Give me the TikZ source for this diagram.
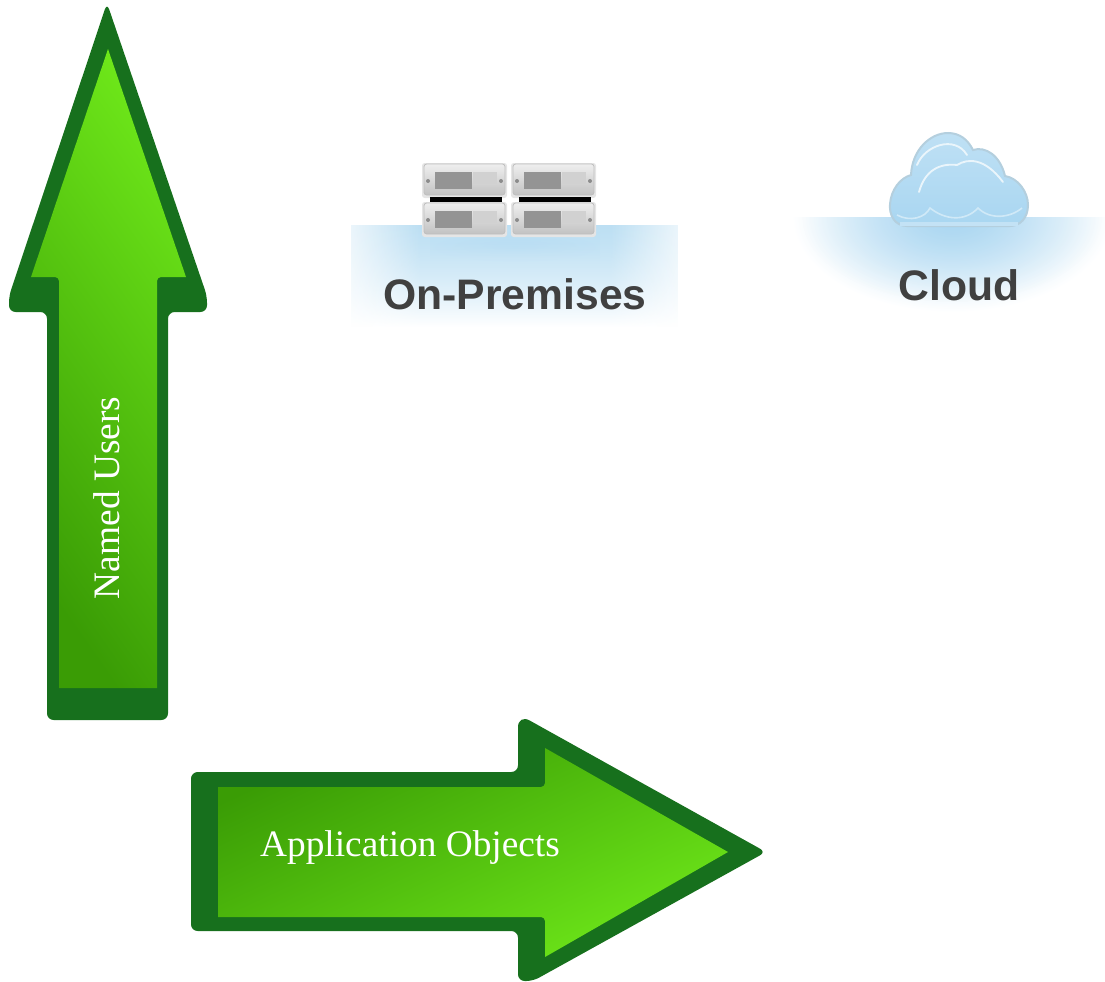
\documentclass[tikz,border=0pt]{standalone}
\usepackage{fontspec}
\setmainfont{Liberation Serif}
\newfontfamily\labelfont{Liberation Sans}
\usetikzlibrary{fadings}

\definecolor{arrowdark}{HTML}{17701D}
\definecolor{greenlow}{HTML}{3A9C05}
\definecolor{greenhigh}{HTML}{6DE619}
\definecolor{glowblue}{HTML}{BCDFF3}
\definecolor{cloudblue}{HTML}{A9D6F1}
\definecolor{cloudedge}{HTML}{B4CFDE}
\definecolor{labelgray}{HTML}{404040}
\definecolor{unitgray}{HTML}{E4E4E4}

\tikzfading[name=softglow, inner color=transparent!45, outer color=transparent!100]

\tikzset{
	arrowrim/.style={fill=arrowdark, rounded corners=5pt},
	arrowface/.style={bottom color=greenlow, top color=greenhigh, shading angle=#1},
	place/.style={font=\labelfont\bfseries\fontsize{32}{38}\selectfont, text=labelgray, inner sep=0, anchor=base},
	arrowtext/.style={font=\fontsize{28}{34}\selectfont, text=white, inner sep=0, anchor=base},
}

\begin{document}
\begin{tikzpicture}[x=0.75pt, y=-0.75pt]

\useasboundingbox (0,0) rectangle (1105,981);

\fill[arrowrim] (107,3)--(207,296)--(207,312)--(168,312)--(168,720)--(47,720)--(47,312)--(9,312)--(9,296)--cycle;
\shade[arrowface=-55] (108,49)--(186,277)[rounded corners=3pt]--(157,277)[sharp corners]--(157,688)--(59,688)[rounded corners=3pt]--(59,277)[sharp corners]--(31,277)--cycle;

\fill[arrowrim] (191,772)--(518,772)[rounded corners=10pt]--(518,714)[rounded corners=5pt]--(766,852)--(533,981)--(518,981)--(518,931)--(191,931)--cycle;
\shade[arrowface=205] (218,787)[rounded corners=3pt]--(545,787)[sharp corners]--(545,748)--(728,852)--(545,957)[rounded corners=3pt]--(545,917)[sharp corners]--(218,917)--cycle;

\fill[glowblue, path fading=south] (351,225) rectangle (678,327);
\fill[glowblue, opacity=0.5, path fading=south] (351,225) rectangle (678,327);
\fill[white, opacity=0.7, path fading=east] (351,224) rectangle (420,328);
\fill[white, opacity=0.7, path fading=west] (610,224) rectangle (678,328);
\shade[inner color=cloudblue, outer color=glowblue, path fading=south, opacity=0.6] (430,232) rectangle (600,262);

\begin{scope}
\clip (790,217) rectangle (1105,320);
\shade[inner color=cloudblue, outer color=white] (952,217) ellipse[x radius=160, y radius=95];
\fill[cloudblue, path fading=softglow] (952,217) ellipse[x radius=150, y radius=85];
\end{scope}

\foreach \cx in {424,513} {
	\foreach \cy in {164,203} {
		\fill[black!10, rounded corners=2pt] (\cx-2,\cy-1) rectangle (\cx+83,\cy+34);
		\shade[top color=unitgray!60, bottom color=black!24, draw=black!25, rounded corners=2pt, line width=0.6]
			(\cx,\cy) rectangle (\cx+81,\cy+31);
		\fill[black!42] (\cx+11,\cy+8) rectangle (\cx+48,\cy+25);
		\fill[white!82!black] (\cx+49,\cy+8) rectangle (\cx+73,\cy+20);
		\fill[black!45] (\cx+4,\cy+17) circle[radius=2];
		\fill[black!45] (\cx+77,\cy+17) circle[radius=2];
	}
	\fill[black] (\cx+6,197) rectangle (\cx+78,202);
}

\shade[draw=cloudedge, line width=1.5, top color=cloudblue!75!white, bottom color=cloudblue]
	(907,226) .. controls (894,226) and (889,214) .. (890,204)
	.. controls (891,190) and (900,178) .. (911,175)
	.. controls (912,150) and (930,133) .. (948,133)
	.. controls (960,133) and (968,140) .. (973,150)
	.. controls (985,146) and (1000,155) .. (1005,176)
	.. controls (1018,178) and (1028,192) .. (1028,205)
	.. controls (1028,218) and (1020,226) .. (1010,226) -- cycle;
\draw[white!75!cloudblue, line width=1.4, line cap=round]
	(919,192) .. controls (925,170) and (940,163) .. (957,165)
	.. controls (968,158) and (985,158) .. (1003,182);
\draw[white!75!cloudblue, line width=1.4, line cap=round]
	(917,165) .. controls (925,145) and (955,135) .. (967,155);
\draw[white!45!cloudblue, line width=1.2]
	(897,215) .. controls (910,222) and (925,218) .. (930,208)
	.. controls (945,220) and (965,222) .. (978,208)
	.. controls (990,220) and (1010,218) .. (1022,208);
\draw[cloudblue!70!white, line width=3] (900,224)--(1018,224);

\node[place] (onpremises) at (515,309) {On-Premises};
\node[place] (cloud) at (959,300) {Cloud};
\node[arrowtext, rotate=90] (namedusers) at (119,498) {Named Users};
\node[arrowtext] (appobjects) at (410,856) {Application Objects};

\end{tikzpicture}
\end{document}
